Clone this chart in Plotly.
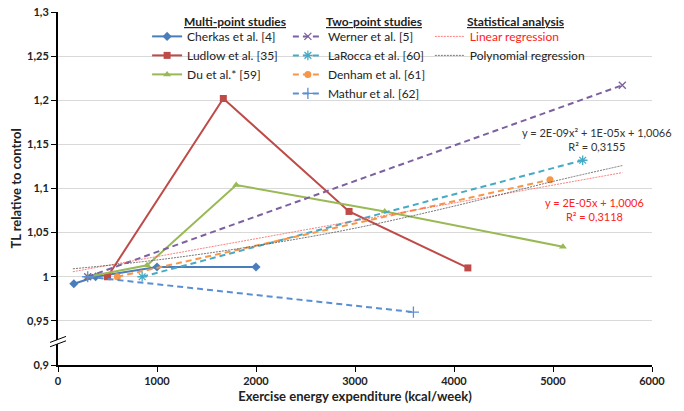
import plotly.graph_objects as go

# ---------------- data ----------------
cherkas_x = [160, 380, 1000, 2000]
cherkas_y = [0.992, 1.000, 1.011, 1.011]
ludlow_x = [500, 1670, 2940, 4140]
ludlow_y = [1.000, 1.202, 1.074, 1.010]
du_x = [300, 900, 1800, 3300, 5100]
du_y = [1.000, 1.013, 1.104, 1.074, 1.034]
werner_x = [300, 5700]
werner_y = [1.000, 1.217]
larocca_x = [850, 5300]
larocca_y = [1.000, 1.132]
denham_x = [600, 4970]
denham_y = [1.000, 1.110]
mathur_x = [300, 3590]
mathur_y = [1.000, 0.960]
lin_x = [150, 5700]
lin_y = [1.0057, 1.118]
poly_x = [150, 1000, 2000, 3000, 4000, 5000, 5700]
poly_y = [1.009, 1.019, 1.035, 1.055, 1.080, 1.108, 1.126]

y_ticks = [0.9, 0.95, 1.0, 1.05, 1.1, 1.15, 1.2, 1.25, 1.3]
y_ticktext = ["0,9", "0,95", "1", "1,05", "1,1", "1,15", "1,2", "1,25", "1,3"]
x_ticks = [0, 1000, 2000, 3000, 4000, 5000, 6000]
x_ticktext = ["0", "1000", "2000", "3000", "4000", "5000", "6000"]

FONT = "Lato"
DASH = "6px,4px"

fig = go.Figure()

def solid(x, y, name, color, symbol, size=7):
    fig.add_trace(go.Scatter(x=x, y=y, name=name, mode="lines+markers",
                             line=dict(color=color, width=2),
                             marker=dict(symbol=symbol, size=size, color=color),
                             legend="legend"))

def dashed(x, y, name, color, symbol, size=7, open_sym=False):
    mk = dict(symbol=symbol, size=size, color=color)
    if open_sym:
        mk["line"] = dict(color=color, width=1.3)
    fig.add_trace(go.Scatter(x=x, y=y, name=name, mode="lines+markers",
                             line=dict(color=color, width=2, dash=DASH),
                             marker=mk, legend="legend2"))

solid(cherkas_x, cherkas_y, "Cherkas et al. [4]", "#4A7EBB", "diamond", 7)
solid(ludlow_x, ludlow_y, "Ludlow et al. [35]", "#BE4B48", "square", 7)
solid(du_x, du_y, "Du et al.* [59]", "#98B954", "triangle-up", 7)

dashed(werner_x, werner_y, "Werner et al. [5]", "#7D60A0", "x-thin-open", 7, True)
dashed(larocca_x, larocca_y, "LaRocca et al. [60]", "#46AAC5", "asterisk-open", 8, True)
dashed(denham_x, denham_y, "Denham et al. [61]", "#F79646", "circle", 7)
dashed(mathur_x, mathur_y, "Mathur et al. [62]", "#5B8FD3", "cross-thin-open", 8, True)

fig.add_trace(go.Scatter(x=lin_x, y=lin_y, mode="lines",
                         name="<span style='color:#FF2020'>Linear regression</span>",
                         line=dict(color="#FF6060", width=0.8, dash="2px,1px"),
                         legend="legend3"))
fig.add_trace(go.Scatter(x=poly_x, y=poly_y, mode="lines", line_shape="spline",
                         name="Polynomial regression",
                         line=dict(color="#555555", width=0.8, dash="2px,1px"),
                         legend="legend3"))

legend_common = dict(font=dict(family=FONT, size=12, color="#222"),
                     bgcolor="rgba(0,0,0,0)", yanchor="top", xanchor="left",
                     y=0.972, tracegroupgap=0, itemwidth=30)

# white panel behind legend area (hides gridline)
fig.add_shape(type="rect", xref="paper", yref="paper", x0=0.172, x1=0.887,
              y0=0.775, y1=0.99, fillcolor="white", line=dict(width=0), layer="between")

# axis break marks
for dy, col, w in [(0, "white", 4), (2.2, "black", 1), (-2.2, "black", 1)]:
    fig.add_shape(type="line", xref="paper", yref="y", xsizemode="pixel", ysizemode="pixel",
                  xanchor=0, yanchor=0.9265, x0=-8, x1=8, y0=-3 + dy, y1=3 + dy,
                  line=dict(color=col, width=w), layer="above")

titles = [("Multi-point studies", 0.298), ("Two-point studies", 0.532),
          ("Statistical analysis", 0.771)]
for t, xp in titles:
    fig.add_annotation(text=f"<b><u>{t}</u></b>", xref="paper", yref="paper",
                       x=xp, y=0.9745, xanchor="center", yanchor="middle", showarrow=False,
                       font=dict(family=FONT, size=12, color="#222"))

fig.add_annotation(text="y = 2E-09x² + 1E-05x + 1,0066<br>R² = 0,3155",
                   x=5444, y=1.155, xref="x", yref="y", showarrow=False,
                   xanchor="center", yanchor="middle",
                   bgcolor="white", font=dict(family=FONT, size=11, color="#333"))
fig.add_annotation(text="y = 2E-05x + 1,0006<br>R² = 0,3118",
                   x=5424, y=1.0758, xref="x", yref="y", showarrow=False,
                   xanchor="center", yanchor="middle",
                   font=dict(family=FONT, size=11, color="#FF2020"))

fig.update_layout(
    width=684, height=411,
    margin=dict(l=58, r=32, t=12, b=46),
    plot_bgcolor="white", paper_bgcolor="white",
    font=dict(family=FONT, size=11, color="#222"),
    legend=dict(legend_common, x=0.150),
    legend2=dict(legend_common, x=0.387),
    legend3=dict(legend_common, x=0.626),
    xaxis=dict(range=[0, 6000], tickvals=x_ticks, automargin=False,
               ticktext=[f"<b>{t}</b>" for t in x_ticktext],
               showgrid=False, zeroline=False, showline=True, linecolor="black",
               linewidth=2, ticks="outside", ticklen=5, tickcolor="black",
               ticklabeloverflow="allow",
               tickfont=dict(family=FONT, size=11, color="#222"),
               title=dict(text="<b>Exercise energy expenditure (kcal/week)</b>",
                          font=dict(family=FONT, size=13, color="#222"), standoff=6)),
    yaxis=dict(range=[0.9, 1.3], tickvals=y_ticks, automargin=False,
               ticktext=[f"<b>{t}</b>" for t in y_ticktext],
               showgrid=True, gridcolor="#D9D9D9", gridwidth=1, zeroline=False,
               showline=True, linecolor="black", linewidth=2, ticks="outside",
               ticklen=5, tickcolor="black", ticklabeloverflow="allow",
               tickfont=dict(family=FONT, size=11, color="#222"),
               title=dict(text="<b>TL relative to control</b>",
                          font=dict(family=FONT, size=13, color="#222"), standoff=3)),
)

# remove the page's default 8px body margin so the figure fills the window
fig.write_html("out.html", config={"displayModeBar": False},
               post_script="document.body.style.margin='0px';")
